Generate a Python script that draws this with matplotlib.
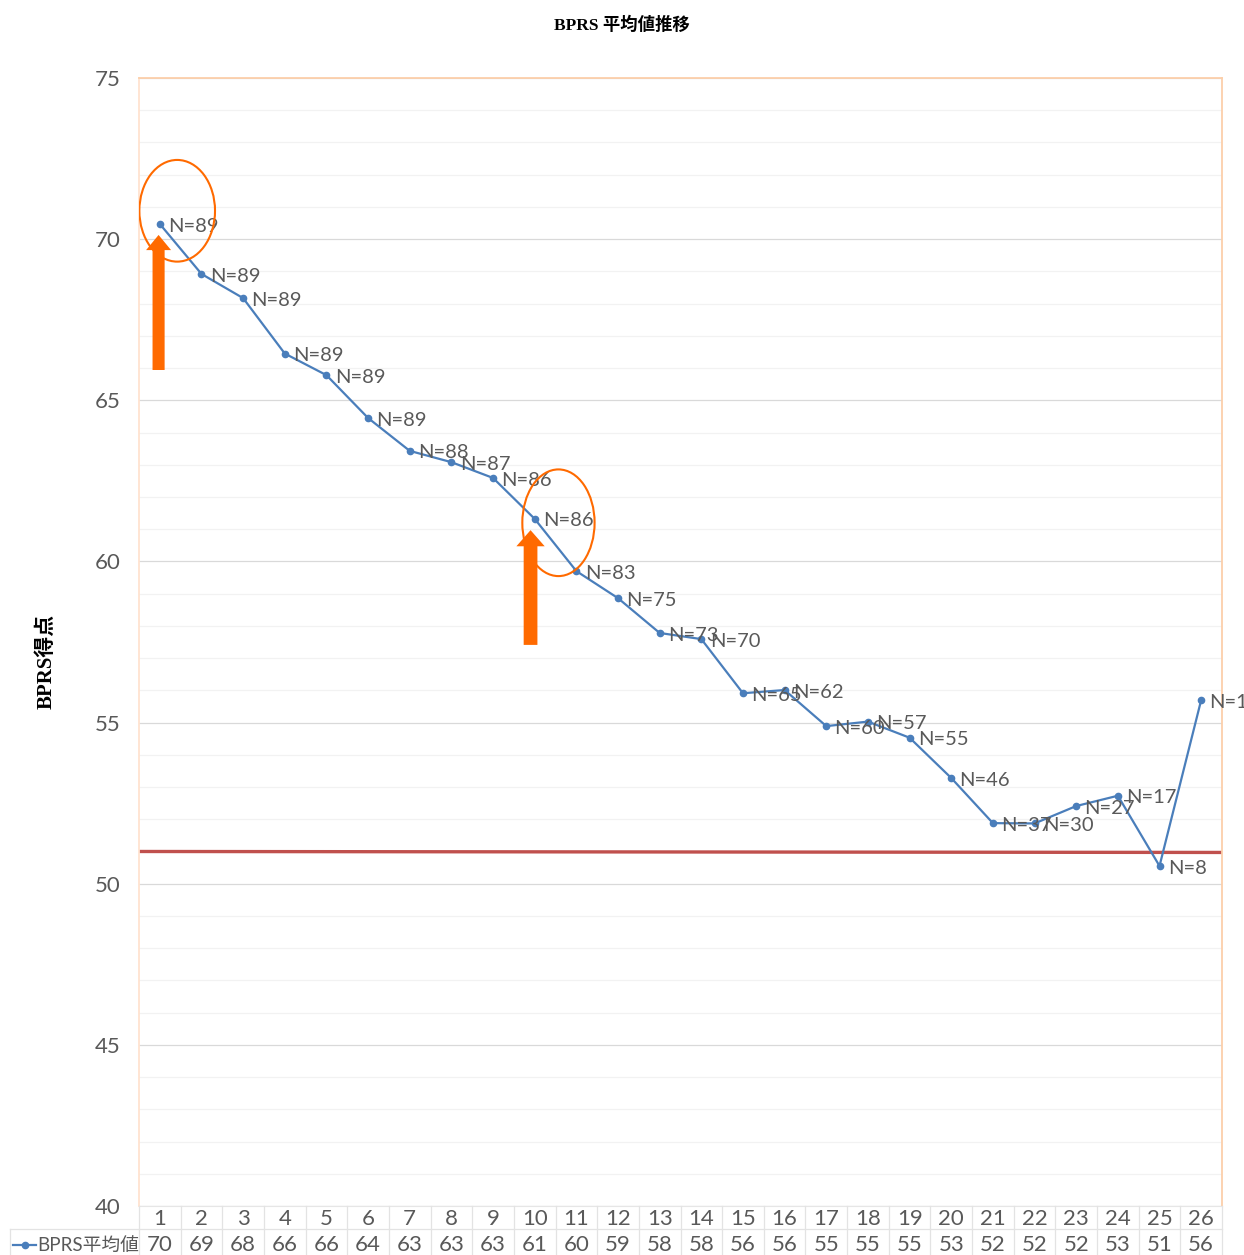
import matplotlib
matplotlib.use("Agg")
import matplotlib.pyplot as plt
import matplotlib.transforms as mtransforms
from matplotlib.patches import Ellipse, FancyArrow
from matplotlib.lines import Line2D

# ---- data ----
categories = list(range(1, 27))
bprs_mean = [70.47, 68.92, 68.17, 66.45, 65.78, 64.45, 63.43, 63.08, 62.59, 61.32,
             59.70, 58.86, 57.78, 57.59, 55.91, 56.01, 54.89, 55.03, 54.53, 53.28,
             51.88, 51.87, 52.41, 52.73, 50.55, 55.70]
n_counts = [89, 89, 89, 89, 89, 89, 88, 87, 86, 86, 83, 75, 73, 70, 65, 62, 60, 57,
            55, 46, 37, 30, 27, 17, 8, 1]
table_values = [70, 69, 68, 66, 66, 64, 63, 63, 63, 61, 60, 59, 58, 58, 56, 56, 55,
                55, 55, 53, 52, 52, 52, 53, 51, 56]
reference_level = 51.0
y_ticks = [40, 45, 50, 55, 60, 65, 70, 75]
series_name = "BPRS平均値"
title_text = "BPRS 平均値推移"
ylabel_text = "BPRS得点"

GRAY = "#595959"
BLUE = "#4A7EBB"
ORANGE = "#FF6A00"
SPINE = "#FCCFAA"
FONT = ["Lato", "Noto Sans CJK JP", "DejaVu Sans"]
WEIGHT = "normal"

plt.rcParams["font.family"] = FONT

W, H = 1244, 1255
fig = plt.figure(figsize=(W / 100, H / 100), dpi=100)
ax = fig.add_axes([139 / W, 1 - 1206 / H, (1222 - 139) / W, (1206 - 78) / H])

ax.set_xlim(0.5, 26.5)
ax.set_ylim(40, 75)

# grid
for v in range(40, 76):
    if v in y_ticks:
        ax.axhline(v, color="#D9D9D9", lw=0.9, zorder=0)
    else:
        ax.axhline(v, color="#F2F2F2", lw=0.9, zorder=0)

ax.set_yticks(y_ticks)
ax.set_yticklabels([str(t) for t in y_ticks], fontsize=16, color=GRAY, fontweight=WEIGHT)
ax.tick_params(axis="y", length=0, pad=13)
ax.set_xticks([])

for s in ["top", "right", "left"]:
    ax.spines[s].set_color(SPINE)
    ax.spines[s].set_linewidth(1.3)
ax.spines["left"].set_color("#FFE3D0")
ax.spines["bottom"].set_color("#E6E6E6")
ax.spines["bottom"].set_linewidth(0.8)

# reference line
ax.plot([0.45, 26.5], [reference_level, reference_level - 0.03], color="#C0504D", lw=2.4, zorder=2)

# data line
ax.plot(categories, bprs_mean, color=BLUE, lw=1.6, marker="o", ms=4.5, zorder=4)

for x, y, n in zip(categories, bprs_mean, n_counts):
    ax.annotate(f"N={n}", (x, y), xytext=(6, -1.5), textcoords="offset points",
                ha="left", va="center", fontsize=14.5, color=GRAY, fontweight=WEIGHT,
                zorder=5, annotation_clip=False)

# annotations: ellipses and arrows
ax.add_patch(Ellipse((1.417, 70.88), 1.816, 3.155, fill=False, ec=ORANGE, lw=1.5, zorder=6))
ax.add_patch(Ellipse((10.57, 61.20), 1.735, 3.31, fill=False, ec=ORANGE, lw=1.5, zorder=6))
ax.add_patch(FancyArrow(0.97, 65.94, 0, 70.13 - 65.94, width=0.29, head_width=0.60,
                        head_length=0.47, length_includes_head=True, color=ORANGE, lw=0, zorder=7))
ax.add_patch(FancyArrow(9.90, 57.41, 0, 60.97 - 57.41, width=0.33, head_width=0.68,
                        head_length=0.50, length_includes_head=True, color=ORANGE, lw=0, zorder=7))

# data table below the axes
trans = mtransforms.blended_transform_factory(ax.transData, fig.transFigure)
row1_y = 1 - 1219 / H
row2_y = 1 - 1245 / H
sep_y = 1 - 1229 / H
top_y = 1 - 1206 / H
bot_y = 0.0
for c, v in zip(categories, table_values):
    fig.text(c, row1_y, str(c), transform=trans, ha="center", va="center",
             fontsize=16, color=GRAY, fontweight=WEIGHT)
    fig.text(c, row2_y, str(v), transform=trans, ha="center", va="center",
             fontsize=16, color=GRAY, fontweight=WEIGHT)
for b in [c + 0.5 for c in categories[:-1]]:
    fig.add_artist(Line2D([b, b], [top_y, bot_y], transform=trans, color="#E3E3E3", lw=0.9))
fig.add_artist(Line2D([1222 / W, 1222 / W], [top_y, bot_y], color="#E3E3E3", lw=0.9))
fig.add_artist(Line2D([10 / W, 1222 / W], [sep_y, sep_y], color="#E3E3E3", lw=0.9))
fig.add_artist(Line2D([10 / W, 10 / W], [sep_y, bot_y], color="#E3E3E3", lw=0.9))
fig.add_artist(Line2D([139 / W, 139 / W], [top_y, bot_y], color="#E3E3E3", lw=0.9))
# legend key
fig.add_artist(Line2D([13 / W, 36 / W], [row2_y, row2_y], color=BLUE, lw=1.6))
fig.add_artist(Line2D([24.5 / W], [row2_y], color=BLUE, marker="o", ms=4.5, lw=0))
fig.text(37 / W, row2_y, series_name, ha="left", va="center", fontsize=13.5,
         color=GRAY, fontweight=WEIGHT)

# title and y label
fig.text(622 / W, 1 - 25 / H, title_text, ha="center", va="center", fontsize=12.5,
         fontweight="bold", family=["Liberation Serif", "Noto Sans CJK JP"], color="black")
fig.text(47 / W, 1 - 661 / H, ylabel_text, ha="center", va="center", rotation=90,
         fontsize=15, fontweight="bold", family=["Liberation Serif", "Noto Sans CJK JP"],
         color="black")

fig.savefig("out.png", dpi=100)
